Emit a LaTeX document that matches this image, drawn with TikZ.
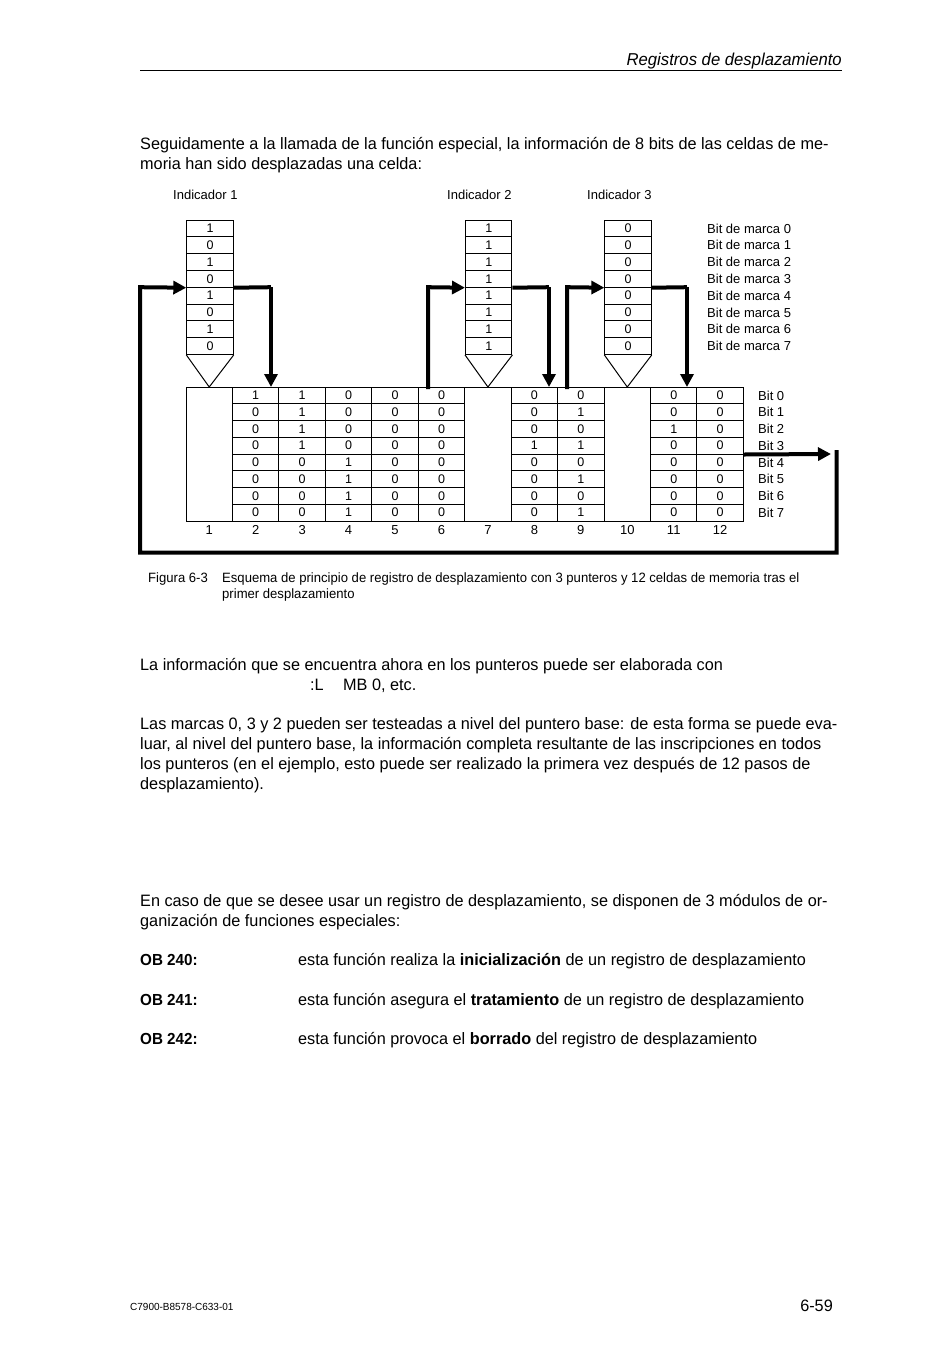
\documentclass[tikz,border=0pt]{standalone}
\usepackage{fontspec}
\setmainfont{Liberation Sans}
\newfontfamily\bodyf[FakeStretch=0.985]{Liberation Sans}
\newfontfamily\obf[FakeStretch=0.95]{Liberation Sans}
\newfontfamily\capf[FakeStretch=0.97]{Liberation Sans}
\usetikzlibrary{arrows.meta}
\begin{document}
\begin{tikzpicture}[x=1pt,y=-1pt,
  cellbox/.style={draw,line width=1pt,minimum width=46.45pt,minimum height=16.75pt,inner sep=0pt,font=\fontsize{12.5}{12.5}\selectfont},
  indbox/.style={cellbox,minimum height=16.8pt},
  flow/.style={line width=4pt},
  flowarrow/.style={flow,-{Triangle[length=13pt,width=13pt]}},
  thinline/.style={line width=1pt},
  lbl/.style={anchor=west,inner sep=0pt,font=\fontsize{13}{13}\selectfont},
  numlbl/.style={anchor=center,inner sep=0pt,font=\fontsize{13}{13}\selectfont},
  txt/.style={anchor=base west,inner sep=0pt,font=\bodyf\fontsize{16.5}{20}\selectfont},
  obtxt/.style={anchor=base west,inner sep=0pt,font=\obf\bfseries\fontsize{16}{20}\selectfont},
  captxt/.style={anchor=base west,inner sep=0pt,font=\capf\fontsize{13.5}{16}\selectfont},
]
\useasboundingbox[fill=white] (0,0) rectangle (950,1366);

% header
\node[anchor=base east,inner sep=0pt,font=\capf\itshape\fontsize{17.2}{20}\selectfont] (hdr) at (842,65) {Registros de desplazamiento};
\draw[line width=1pt] (140,70) -- (842,70);

% intro
\node[txt] (p1a) at (140,149) {Seguidamente a la llamada de la función especial, la información de 8 bits de las celdas de me-};
\node[txt] (p1b) at (140,169) {moria han sido desplazadas una celda:};

% indicator titles
\node[lbl] (t1) at (173,195) {Indicador 1};
\node[lbl] (t2) at (447,195) {Indicador 2};
\node[lbl] (t3) at (587,195) {Indicador 3};

% storage outline
\node[draw,line width=1pt,minimum width=557.4pt,minimum height=134pt,inner sep=0pt,anchor=north west] (store) at (186,387) {};

% storage cells
\foreach \c/\v in {2/{1,0,0,0,0,0,0,0},3/{1,1,1,1,0,0,0,0},4/{0,0,0,0,1,1,1,1},5/{0,0,0,0,0,0,0,0},6/{0,0,0,0,0,0,0,0},8/{0,0,0,1,0,0,0,0},9/{0,1,0,1,0,1,0,1},11/{0,0,1,0,0,0,0,0},12/{0,0,0,0,0,0,0,0}}{
  \foreach \b [count=\r from 0] in \v {
    \node[cellbox] (c\c r\r) at ({186+46.45*(\c-0.5)},{387+16.75*(\r+0.5)}) {\b};
  }
}
% column numbers
\foreach \c in {1,...,12}{
  \node[numlbl] (n\c) at ({186+46.45*(\c-0.5)},530) {\c};
}
% Bit labels
\foreach \r in {0,...,7}{
  \node[lbl] (bit\r) at (758,{387+16.75*(\r+0.5)}) {Bit \r};
}

% indicators
\foreach \k/\c/\v in {1/1/{1,0,1,0,1,0,1,0},2/7/{1,1,1,1,1,1,1,1},3/10/{0,0,0,0,0,0,0,0}}{
  \foreach \b [count=\r from 0] in \v {
    \node[indbox] (i\k r\r) at ({186+46.45*(\c-0.5)+0.8},{220+16.8*(\r+0.5)}) {\b};
  }
  \coordinate (tip\k) at ({186+46.45*(\c-0.5)},387);
  \draw[thinline] (i\k r7.south west) -- (tip\k) -- (i\k r7.south east);
}
\foreach \r in {0,...,7}{
  \node[lbl] (mk\r) at (707,{220+16.8*(\r+0.5)}) {Bit de marca \r};
}

% pointer flows
\coordinate (o1) at (271,287.2);
\coordinate (o1b) at (271,387);
\draw[flow] (i1r3.south east) -- (o1);
\draw[flowarrow] (o1) -- (o1b);

\coordinate (in2) at (428,389);
\coordinate (in2t) at (428,287.2);
\draw[flowarrow] (in2) -- (in2t) -- (i2r3.south west);
\coordinate (o2) at (549,287.2);
\coordinate (o2b) at (549,387);
\draw[flow] (i2r3.south east) -- (o2);
\draw[flowarrow] (o2) -- (o2b);

\coordinate (in3) at (567,389);
\coordinate (in3t) at (567,287.2);
\draw[flowarrow] (in3) -- (in3t) -- (i3r3.south west);
\coordinate (o3) at (687,287.2);
\coordinate (o3b) at (687,387);
\draw[flow] (i3r3.south east) -- (o3);
\draw[flowarrow] (o3) -- (o3b);

% feedback loop
\coordinate (fbEnd) at (831,454);
\draw[flowarrow] (c12r3.south east) -- (fbEnd);
\coordinate (lpTR) at (836.5,450);
\coordinate (lpBR) at (836.5,552.5);
\coordinate (lpBL) at (140,552.5);
\coordinate (lpTL) at (140,287.2);
\draw[flowarrow] (lpTR) -- (lpBR) -- (lpBL) -- (lpTL) -- (i1r3.south west);

% caption
\node[captxt] (figno) at (148,582) {Figura 6-3};
\node[captxt] (capa) at (222,582) {Esquema de principio de registro de desplazamiento con 3 punteros y 12 celdas de memoria tras el};
\node[captxt] (capb) at (222,598) {primer desplazamiento};

% paragraphs
\node[txt] (p2a) at (140,670) {La información que se encuentra ahora en los punteros puede ser elaborada con};
\node[txt] (p2b) at (310,690) {:L};
\node[txt] (p2c) at (343,690) {MB 0, etc.};

\node[txt] (p3a) at (140,729) {Las marcas 0, 3 y 2 pueden ser testeadas a nivel del puntero base: de esta forma se puede eva-};
\node[txt] (p3b) at (140,749) {luar, al nivel del puntero base, la información completa resultante de las inscripciones en todos};
\node[txt] (p3c) at (140,769) {los punteros (en el ejemplo, esto puede ser realizado la primera vez después de 12 pasos de};
\node[txt] (p3d) at (140,789) {desplazamiento).};

\node[txt] (p4a) at (140,906) {En caso de que se desee usar un registro de desplazamiento, se disponen de 3 módulos de or-};
\node[txt] (p4b) at (140,926) {ganización de funciones especiales:};

\node[obtxt] (ob0) at (140,965) {OB 240:};
\node[txt] (ob0t) at (298,965) {esta función realiza la \textbf{inicialización} de un registro de desplazamiento};
\node[obtxt] (ob1) at (140,1005) {OB 241:};
\node[txt] (ob1t) at (298,1005) {esta función asegura el \textbf{tratamiento} de un registro de desplazamiento};
\node[obtxt] (ob2) at (140,1044) {OB 242:};
\node[txt] (ob2t) at (298,1044) {esta función provoca el \textbf{borrado} del registro de desplazamiento};

% footer
\node[anchor=base west,inner sep=0pt,font=\capf\fontsize{10.3}{10}\selectfont] (ft) at (130,1310) {C7900-B8578-C633-01};
\node[anchor=base east,inner sep=0pt,font=\bodyf\fontsize{16.5}{16}\selectfont] (pg) at (833,1311) {6-59};
\end{tikzpicture}
\end{document}
